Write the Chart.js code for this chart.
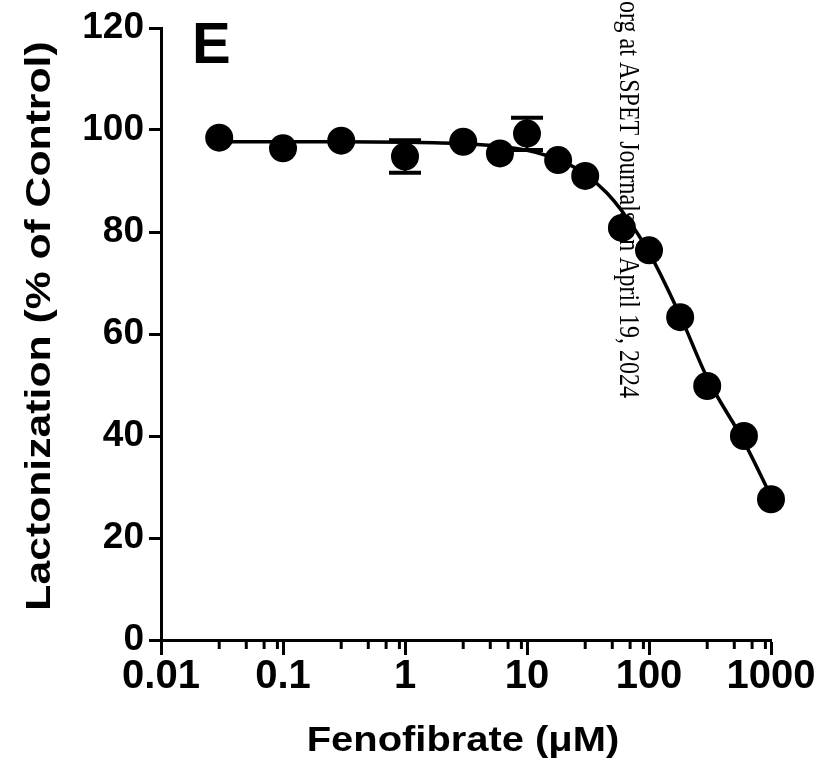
<!DOCTYPE html>
<html>
<head>
<meta charset="UTF-8">
<title>Fenofibrate lactonization</title>
<script src="https://cdn.jsdelivr.net/npm/chart.js@4.4.1/dist/chart.umd.min.js"></script>
<style>
  html, body { margin: 0; padding: 0; background: #fff; }
</style>
</head>
<body>

<canvas id="myChart" width="818" height="762"></canvas>

<script>
  // concentrations (uM) and mean lactonization (% of control)
  let conc   = [0.03, 0.1, 0.3, 1, 3, 6, 10, 18, 30, 60, 100, 180, 300, 600, 1000];
  let lacton = [98.5, 96.4, 97.9, 94.8, 97.7, 95.4, 99.3, 94.1, 91.0, 80.8, 76.4, 63.3, 49.8, 40.0, 27.6];

  // error bars (only the ones that stick out of the dots)
  let errLow  = [null, null, null, 91.6, null, null, 96.1, null, null, null, null, null, null, null, null];
  let errHigh = [null, null, null, 98.0, null, null, 102.4, null, null, null, null, null, null, null, null];

  // fitted curve
  let fitX = [0.03, 0.1, 0.3, 1, 3, 6, 10, 15, 20, 30, 45, 60, 100, 180, 300, 600, 1000];
  let fitY = [97.7, 97.7, 97.7, 97.6, 97.3, 96.8, 96.0, 94.9, 93.8, 91.3, 87.7, 84.1, 76.0, 63.6, 51.4, 38.9, 28.2];

  let xTicks = [0.01, 0.1, 1, 10, 100, 1000];
  let xTickLabels = ['0.01', '0.1', '1', '10', '100', '1000'];
  let xMinor = [3, 5, 7, 9];   // minor tick multipliers in each decade

  const FONT = "'Liberation Sans', Arial, Helvetica, sans-serif";

  // draws text stretched along its own direction (the figure's lettering runs long)
  function stretchedText(ctx, txt, x, y, angle, stretch) {
    ctx.save();
    ctx.translate(x, y);
    ctx.rotate(angle);
    ctx.scale(stretch, 1);
    ctx.fillText(txt, 0, 0);
    ctx.restore();
  }

  // extra drawing: minor ticks, error bars, axis titles, panel letter, watermark
  const extras = {
    id: 'extras',
    afterDatasetsDraw(chart) {
      const ctx = chart.ctx;
      const xs = chart.scales.x, ys = chart.scales.y;
      const area = chart.chartArea;
      ctx.save();
      ctx.strokeStyle = '#000';
      ctx.fillStyle = '#000';
      ctx.lineWidth = 3;

      // minor ticks on the log axis
      for (let i = 0; i < xTicks.length - 1; i++) {
        xMinor.forEach(function(m) {
          const px = xs.getPixelForValue(xTicks[i] * m);
          ctx.beginPath();
          ctx.moveTo(px, area.bottom);
          ctx.lineTo(px, area.bottom + 9);
          ctx.stroke();
        });
      }

      // error bars
      conc.forEach(function(c, i) {
        if (errLow[i] == null) return;
        const px = xs.getPixelForValue(c);
        const lo = ys.getPixelForValue(errLow[i]);
        const hi = ys.getPixelForValue(errHigh[i]);
        ctx.lineWidth = 3;
        ctx.beginPath();
        ctx.moveTo(px, lo); ctx.lineTo(px, hi);
        ctx.stroke();
        ctx.lineWidth = 4;
        ctx.beginPath();
        ctx.moveTo(px - 16, lo); ctx.lineTo(px + 16, lo);
        ctx.moveTo(px - 16, hi); ctx.lineTo(px + 16, hi);
        ctx.stroke();
      });

      // axis titles
      ctx.font = 'bold 35px ' + FONT;
      ctx.textAlign = 'center';
      ctx.textBaseline = 'middle';
      stretchedText(ctx, 'Lactonization (% of Control)', 40, 326, -Math.PI / 2, 1.22);
      stretchedText(ctx, 'Fenofibrate (\u03BCM)', 463, 741, 0, 1.14);

      // panel letter
      ctx.font = 'bold 58px ' + FONT;
      ctx.textAlign = 'left';
      ctx.textBaseline = 'alphabetic';
      ctx.fillText('E', 192, 63);

      // journal watermark, rotated
      ctx.translate(620, 1);
      ctx.rotate(Math.PI / 2);
      ctx.scale(1, 1.2);
      ctx.font = "24px 'Liberation Serif', 'Times New Roman', serif";
      ctx.fillText('org at ASPET Journals on April 19, 2024', 0, 0);
      ctx.restore();
    }
  };

  new Chart('myChart', {
    type: 'scatter',
    data: {
      datasets: [{
        data: conc.map(function(c, i) { return {x: c, y: lacton[i]}; }),
        backgroundColor: '#000',
        borderColor: '#000',
        pointRadius: 14,
        pointHoverRadius: 14,
        borderWidth: 0,
        clip: false
      }, {
        data: fitX.map(function(c, i) { return {x: c, y: fitY[i]}; }),
        showLine: true,
        borderColor: '#000',
        borderWidth: 3.5,
        pointRadius: 0,
        cubicInterpolationMode: 'monotone',
        fill: false,
        clip: false
      }]
    },
    options: {
      responsive: false,
      animation: false,
      layout: { padding: { top: 28, right: 47, left: 0, bottom: 0 } },
      plugins: { legend: { display: false }, tooltip: { enabled: false } },
      scales: {
        x: {
          type: 'logarithmic',
          min: 0.01,
          max: 1000,
          afterBuildTicks: function(scale) {
            scale.ticks = xTicks.map(function(v) { return {value: v}; });
          },
          afterFit: function(scale) { scale.height = 122; },
          ticks: {
            color: '#000',
            font: { family: FONT, size: 40, weight: 'bold', lineHeight: 1 },
            padding: 2,
            maxRotation: 0,
            autoSkip: false,
            callback: function(v) {
              const k = xTicks.indexOf(v);
              return k >= 0 ? xTickLabels[k] : '';
            }
          },
          grid: { drawOnChartArea: false, drawTicks: true, tickLength: 15, tickWidth: 3, tickColor: '#000' },
          border: { color: '#000', width: 3 }
        },
        y: {
          min: 0,
          max: 120,
          afterFit: function(scale) { scale.width = 161; },
          ticks: {
            stepSize: 20,
            color: '#000',
            font: { family: FONT, size: 37, weight: 'bold' },
            padding: 5
          },
          grid: { drawOnChartArea: false, drawTicks: true, tickLength: 12, tickWidth: 3, tickColor: '#000' },
          border: { color: '#000', width: 3 }
        }
      }
    },
    plugins: [extras]
  });
</script>
</body>
</html>
